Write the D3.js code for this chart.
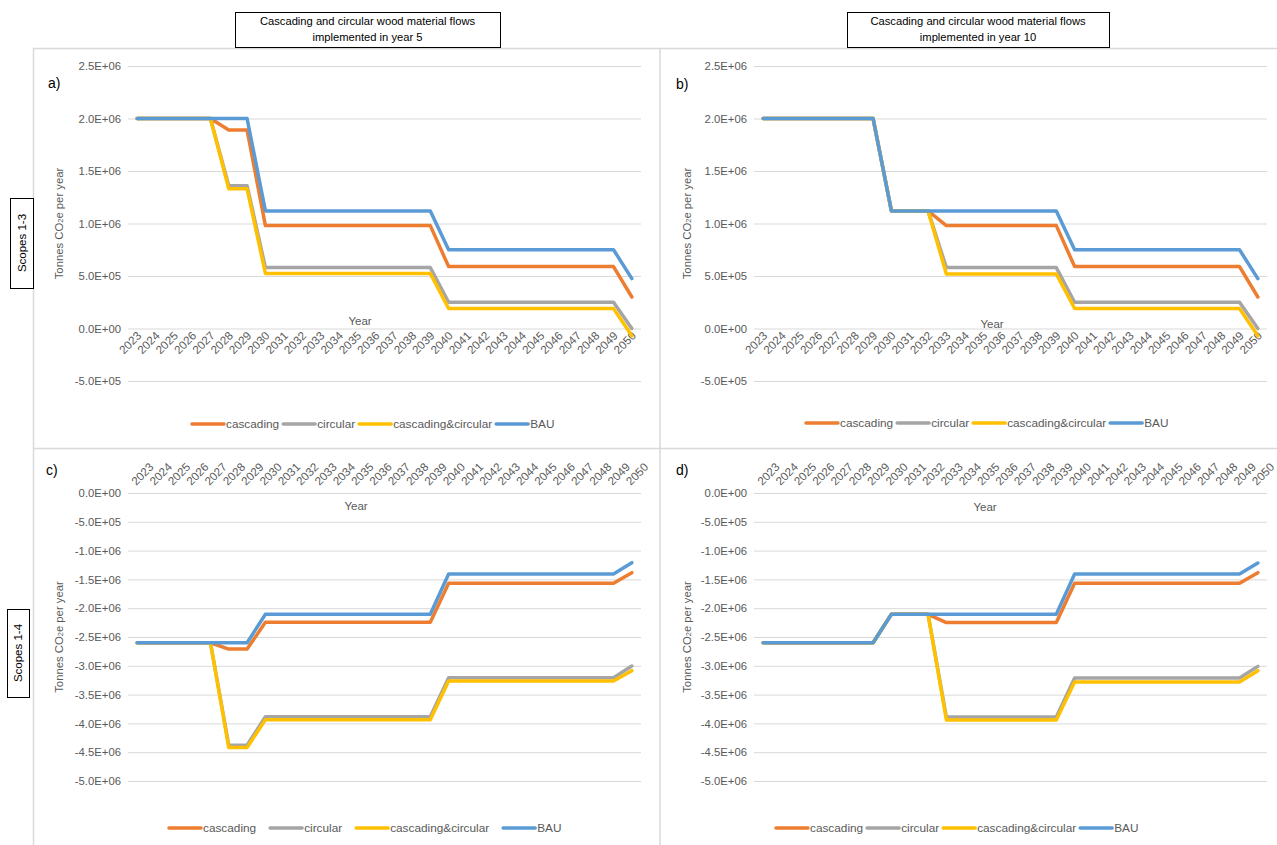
<!DOCTYPE html>
<html>
<head>
<meta charset="utf-8">
<script src="https://cdn.jsdelivr.net/npm/d3@7"></script>
<style>
  body { margin: 0; background: #fff; }
  svg { font-family: "Liberation Sans", Arial, sans-serif; }
</style>
</head>
<body>
<svg id="chart" width="1277" height="845"></svg>
<script>
// categories
var years = ["2023","2024","2025","2026","2027","2028","2029","2030","2031","2032","2033","2034","2035","2036",
             "2037","2038","2039","2040","2041","2042","2043","2044","2045","2046","2047","2048","2049","2050"];

var seriesNames = ["cascading", "circular", "cascading&circular", "BAU"];
var seriesColors = ["#ED7D31", "#A5A5A5", "#FFC000", "#5B9BD5"];

// a) scopes 1-3, implemented in year 5
var aCascading = [2.0e6,2.0e6,2.0e6,2.0e6,2.0e6,1.89e6,1.89e6,0.98e6,0.98e6,0.98e6,0.98e6,0.98e6,0.98e6,0.98e6,
                  0.98e6,0.98e6,0.98e6,0.59e6,0.59e6,0.59e6,0.59e6,0.59e6,0.59e6,0.59e6,0.59e6,0.59e6,0.59e6,0.30e6];
var aCircular  = [2.0e6,2.0e6,2.0e6,2.0e6,2.0e6,1.36e6,1.36e6,0.58e6,0.58e6,0.58e6,0.58e6,0.58e6,0.58e6,0.58e6,
                  0.58e6,0.58e6,0.58e6,0.25e6,0.25e6,0.25e6,0.25e6,0.25e6,0.25e6,0.25e6,0.25e6,0.25e6,0.25e6,0.0];
var aBoth      = [2.0e6,2.0e6,2.0e6,2.0e6,2.0e6,1.33e6,1.33e6,0.525e6,0.525e6,0.525e6,0.525e6,0.525e6,0.525e6,0.525e6,
                  0.525e6,0.525e6,0.525e6,0.19e6,0.19e6,0.19e6,0.19e6,0.19e6,0.19e6,0.19e6,0.19e6,0.19e6,0.19e6,-0.07e6];
var aBAU       = [2.0e6,2.0e6,2.0e6,2.0e6,2.0e6,2.0e6,2.0e6,1.12e6,1.12e6,1.12e6,1.12e6,1.12e6,1.12e6,1.12e6,
                  1.12e6,1.12e6,1.12e6,0.75e6,0.75e6,0.75e6,0.75e6,0.75e6,0.75e6,0.75e6,0.75e6,0.75e6,0.75e6,0.475e6];

// b) scopes 1-3, implemented in year 10
var bCascading = [2.0e6,2.0e6,2.0e6,2.0e6,2.0e6,2.0e6,2.0e6,1.12e6,1.12e6,1.12e6,0.98e6,0.98e6,0.98e6,0.98e6,
                  0.98e6,0.98e6,0.98e6,0.59e6,0.59e6,0.59e6,0.59e6,0.59e6,0.59e6,0.59e6,0.59e6,0.59e6,0.59e6,0.30e6];
var bCircular  = [2.0e6,2.0e6,2.0e6,2.0e6,2.0e6,2.0e6,2.0e6,1.12e6,1.12e6,1.12e6,0.58e6,0.58e6,0.58e6,0.58e6,
                  0.58e6,0.58e6,0.58e6,0.25e6,0.25e6,0.25e6,0.25e6,0.25e6,0.25e6,0.25e6,0.25e6,0.25e6,0.25e6,0.0];
var bBoth      = [2.0e6,2.0e6,2.0e6,2.0e6,2.0e6,2.0e6,2.0e6,1.12e6,1.12e6,1.12e6,0.52e6,0.52e6,0.52e6,0.52e6,
                  0.52e6,0.52e6,0.52e6,0.19e6,0.19e6,0.19e6,0.19e6,0.19e6,0.19e6,0.19e6,0.19e6,0.19e6,0.19e6,-0.07e6];
var bBAU       = [2.0e6,2.0e6,2.0e6,2.0e6,2.0e6,2.0e6,2.0e6,1.12e6,1.12e6,1.12e6,1.12e6,1.12e6,1.12e6,1.12e6,
                  1.12e6,1.12e6,1.12e6,0.75e6,0.75e6,0.75e6,0.75e6,0.75e6,0.75e6,0.75e6,0.75e6,0.75e6,0.75e6,0.475e6];

// c) scopes 1-4, implemented in year 5
var cCascading = [-2.6e6,-2.6e6,-2.6e6,-2.6e6,-2.6e6,-2.71e6,-2.71e6,-2.245e6,-2.245e6,-2.245e6,-2.245e6,-2.245e6,-2.245e6,-2.245e6,
                  -2.245e6,-2.245e6,-2.245e6,-1.568e6,-1.568e6,-1.568e6,-1.568e6,-1.568e6,-1.568e6,-1.568e6,-1.568e6,-1.568e6,-1.568e6,-1.383e6];
var cCircular  = [-2.6e6,-2.6e6,-2.6e6,-2.6e6,-2.6e6,-4.38e6,-4.38e6,-3.883e6,-3.883e6,-3.883e6,-3.883e6,-3.883e6,-3.883e6,-3.883e6,
                  -3.883e6,-3.883e6,-3.883e6,-3.206e6,-3.206e6,-3.206e6,-3.206e6,-3.206e6,-3.206e6,-3.206e6,-3.206e6,-3.206e6,-3.206e6,-3.003e6];
var cBoth      = [-2.6e6,-2.6e6,-2.6e6,-2.6e6,-2.6e6,-4.42e6,-4.42e6,-3.935e6,-3.935e6,-3.935e6,-3.935e6,-3.935e6,-3.935e6,-3.935e6,
                  -3.935e6,-3.935e6,-3.935e6,-3.264e6,-3.264e6,-3.264e6,-3.264e6,-3.264e6,-3.264e6,-3.264e6,-3.264e6,-3.264e6,-3.264e6,-3.085e6];
var cBAU       = [-2.6e6,-2.6e6,-2.6e6,-2.6e6,-2.6e6,-2.6e6,-2.6e6,-2.106e6,-2.106e6,-2.106e6,-2.106e6,-2.106e6,-2.106e6,-2.106e6,
                  -2.106e6,-2.106e6,-2.106e6,-1.406e6,-1.406e6,-1.406e6,-1.406e6,-1.406e6,-1.406e6,-1.406e6,-1.406e6,-1.406e6,-1.406e6,-1.21e6];

// d) scopes 1-4, implemented in year 10
var dCascading = [-2.6e6,-2.6e6,-2.6e6,-2.6e6,-2.6e6,-2.6e6,-2.6e6,-2.106e6,-2.106e6,-2.106e6,-2.25e6,-2.25e6,-2.25e6,-2.25e6,
                  -2.25e6,-2.25e6,-2.25e6,-1.568e6,-1.568e6,-1.568e6,-1.568e6,-1.568e6,-1.568e6,-1.568e6,-1.568e6,-1.568e6,-1.568e6,-1.383e6];
var dCircular  = [-2.6e6,-2.6e6,-2.6e6,-2.6e6,-2.6e6,-2.6e6,-2.6e6,-2.106e6,-2.106e6,-2.106e6,-3.89e6,-3.89e6,-3.89e6,-3.89e6,
                  -3.89e6,-3.89e6,-3.89e6,-3.21e6,-3.21e6,-3.21e6,-3.21e6,-3.21e6,-3.21e6,-3.21e6,-3.21e6,-3.21e6,-3.21e6,-3.01e6];
var dBoth      = [-2.6e6,-2.6e6,-2.6e6,-2.6e6,-2.6e6,-2.6e6,-2.6e6,-2.106e6,-2.106e6,-2.106e6,-3.94e6,-3.94e6,-3.94e6,-3.94e6,
                  -3.94e6,-3.94e6,-3.94e6,-3.28e6,-3.28e6,-3.28e6,-3.28e6,-3.28e6,-3.28e6,-3.28e6,-3.28e6,-3.28e6,-3.28e6,-3.085e6];
var dBAU       = [-2.6e6,-2.6e6,-2.6e6,-2.6e6,-2.6e6,-2.6e6,-2.6e6,-2.106e6,-2.106e6,-2.106e6,-2.106e6,-2.106e6,-2.106e6,-2.106e6,
                  -2.106e6,-2.106e6,-2.106e6,-1.406e6,-1.406e6,-1.406e6,-1.406e6,-1.406e6,-1.406e6,-1.406e6,-1.406e6,-1.406e6,-1.406e6,-1.215e6];

// tick values
var topTicks = [-5e5, 0, 5e5, 1e6, 1.5e6, 2e6, 2.5e6];
var bottomTicks = [0, -5e5, -1e6, -1.5e6, -2e6, -2.5e6, -3e6, -3.5e6, -4e6, -4.5e6, -5e6];

var headerLines = ["Cascading and circular wood material flows", "implemented in year 5", "implemented in year 10"];

var svg = d3.select("#chart");
var grid = "#d9d9d9", textGray = "#595959";

function sci(v) {
    return v.toExponential(1).toUpperCase().replace(/E([+-])(\d)$/, "E$10$2");
}

// panel frames
svg.append("line").attr("x1", 33).attr("x2", 1277).attr("y1", 48.5).attr("y2", 48.5);
svg.append("line").attr("x1", 33).attr("x2", 1277).attr("y1", 448.5).attr("y2", 448.5);
svg.append("line").attr("x1", 33.5).attr("x2", 33.5).attr("y1", 48).attr("y2", 845);
svg.append("line").attr("x1", 660).attr("x2", 660).attr("y1", 48).attr("y2", 845);
svg.selectAll("line").attr("stroke", grid).attr("stroke-width", 1.5);

// header boxes
function headerBox(x, w, line2) {
    svg.append("rect").attr("x", x + 0.5).attr("y", 12.5).attr("width", w).attr("height", 35)
        .attr("fill", "#fff").attr("stroke", "#000").attr("stroke-width", 1);
    svg.append("text").attr("x", x + w / 2).attr("y", 25).attr("text-anchor", "middle")
        .attr("font-size", 11.2).text(headerLines[0]);
    svg.append("text").attr("x", x + w / 2).attr("y", 41).attr("text-anchor", "middle")
        .attr("font-size", 11.2).text(line2);
}
headerBox(235, 265, headerLines[1]);
headerBox(847, 262, headerLines[2]);

// scope boxes on the left
function scopeBox(x, y, w, h, label) {
    svg.append("rect").attr("x", x + 0.5).attr("y", y + 0.5).attr("width", w).attr("height", h)
        .attr("fill", "#fff").attr("stroke", "#000");
    svg.append("text").attr("transform", "translate(" + (x + w / 2 + 4) + "," + (y + h / 2) + ") rotate(-90)")
        .attr("text-anchor", "middle").attr("font-size", 11.5).text(label);
}
scopeBox(10, 198, 23, 90, "Scopes 1-3");
scopeBox(7, 609, 22, 88, "Scopes 1-4");

var panels = [
    { tag: "a)", tagX: 48, tagY: 88, x0: 128, x1: 641, yTop: 66, yBot: 381, domain: [-5e5, 2.5e6], ticks: topTicks,
      data: [aCascading, aCircular, aBoth, aBAU], labelsBelow: true, yearX: 360, yearY: 325, titleX: 63,
      legX: 192, legY: 424, legGap: 4 },
    { tag: "b)", tagX: 676, tagY: 89, x0: 754, x1: 1267, yTop: 66, yBot: 381, domain: [-5e5, 2.5e6], ticks: topTicks,
      data: [bCascading, bCircular, bBoth, bBAU], labelsBelow: true, yearX: 992, yearY: 328, titleX: 691,
      legX: 806, legY: 423, legGap: 4 },
    { tag: "c)", tagX: 46, tagY: 475, x0: 128, x1: 641, yTop: 493, yBot: 781, domain: [-5e6, 0], ticks: bottomTicks,
      data: [cCascading, cCircular, cBoth, cBAU], labelsBelow: false, yearX: 356, yearY: 510, titleX: 63,
      legX: 169, legY: 828, legGap: 14 },
    { tag: "d)", tagX: 676, tagY: 475, x0: 754, x1: 1267, yTop: 493, yBot: 781, domain: [-5e6, 0], ticks: bottomTicks,
      data: [dCascading, dCircular, dBoth, dBAU], labelsBelow: false, yearX: 985, yearY: 511, titleX: 691,
      legX: 776, legY: 828, legGap: 4 }
];

panels.forEach(function(p) {
    var g = svg.append("g");
    var x = d3.scalePoint().domain(years).range([p.x0, p.x1]).padding(0.5);
    var y = d3.scaleLinear().domain(p.domain).range([p.yBot, p.yTop]);

    // gridlines + y labels
    var yAxis = g.append("g").attr("transform", "translate(" + p.x0 + ",0)")
        .call(d3.axisLeft(y).tickValues(p.ticks).tickFormat(sci).tickSize(-(p.x1 - p.x0)).tickPadding(7));
    yAxis.select(".domain").remove();
    yAxis.selectAll("line").attr("stroke", grid).attr("stroke-width", 1);
    yAxis.selectAll("text").attr("fill", textGray).attr("font-size", 11.3)
        .attr("font-family", "Liberation Sans, Arial, sans-serif");

    // year labels (rotated), sitting on the zero line
    var y0 = y(0);
    var xl = g.append("g").selectAll("text").data(years).join("text")
        .attr("fill", textGray).attr("font-size", 11.6);
    if (p.labelsBelow) {
        xl.attr("text-anchor", "end")
          .attr("transform", function(d) { return "translate(" + (x(d) + 5) + "," + (y0 + 8) + ") rotate(-45)"; })
          .text(function(d) { return d; });
    } else {
        xl.attr("text-anchor", "start")
          .attr("transform", function(d) { return "translate(" + (x(d) - 1) + "," + (y0 - 7) + ") rotate(-45)"; })
          .text(function(d) { return d; });
    }

    g.append("text").attr("x", p.yearX).attr("y", p.yearY).attr("text-anchor", "middle")
        .attr("fill", textGray).attr("font-size", 11.5).text("Year");

    // y axis title
    var t = g.append("text")
        .attr("transform", "translate(" + p.titleX + "," + ((p.yTop + p.yBot) / 2) + ") rotate(-90)")
        .attr("text-anchor", "middle").attr("fill", textGray).attr("font-size", 11.3);
    t.append("tspan").text("Tonnes CO");
    t.append("tspan").attr("font-size", 7.5).text("2");
    t.append("tspan").text("e per year");

    g.append("text").attr("x", p.tagX).attr("y", p.tagY).attr("font-size", 14).text(p.tag);

    // lines
    var line = d3.line()
        .x(function(d, i) { return x(years[i]); })
        .y(function(d) { return y(d); });
    p.data.forEach(function(s, k) {
        g.append("path").datum(s).attr("d", line).attr("fill", "none")
            .attr("stroke", seriesColors[k]).attr("stroke-width", 3.5)
            .attr("stroke-linejoin", "round").attr("stroke-linecap", "round");
    });

    // legend
    var lx = p.legX;
    seriesNames.forEach(function(name, k) {
        g.append("line").attr("x1", lx).attr("x2", lx + 32).attr("y1", p.legY).attr("y2", p.legY)
            .attr("stroke", seriesColors[k]).attr("stroke-width", 3.5).attr("stroke-linecap", "round");
        var lt = g.append("text").attr("x", lx + 34).attr("y", p.legY + 4)
            .attr("fill", textGray).attr("font-size", 11.8).text(name);
        lx = lx + 34 + lt.node().getComputedTextLength() + p.legGap;
    });
});
</script>
</body>
</html>
